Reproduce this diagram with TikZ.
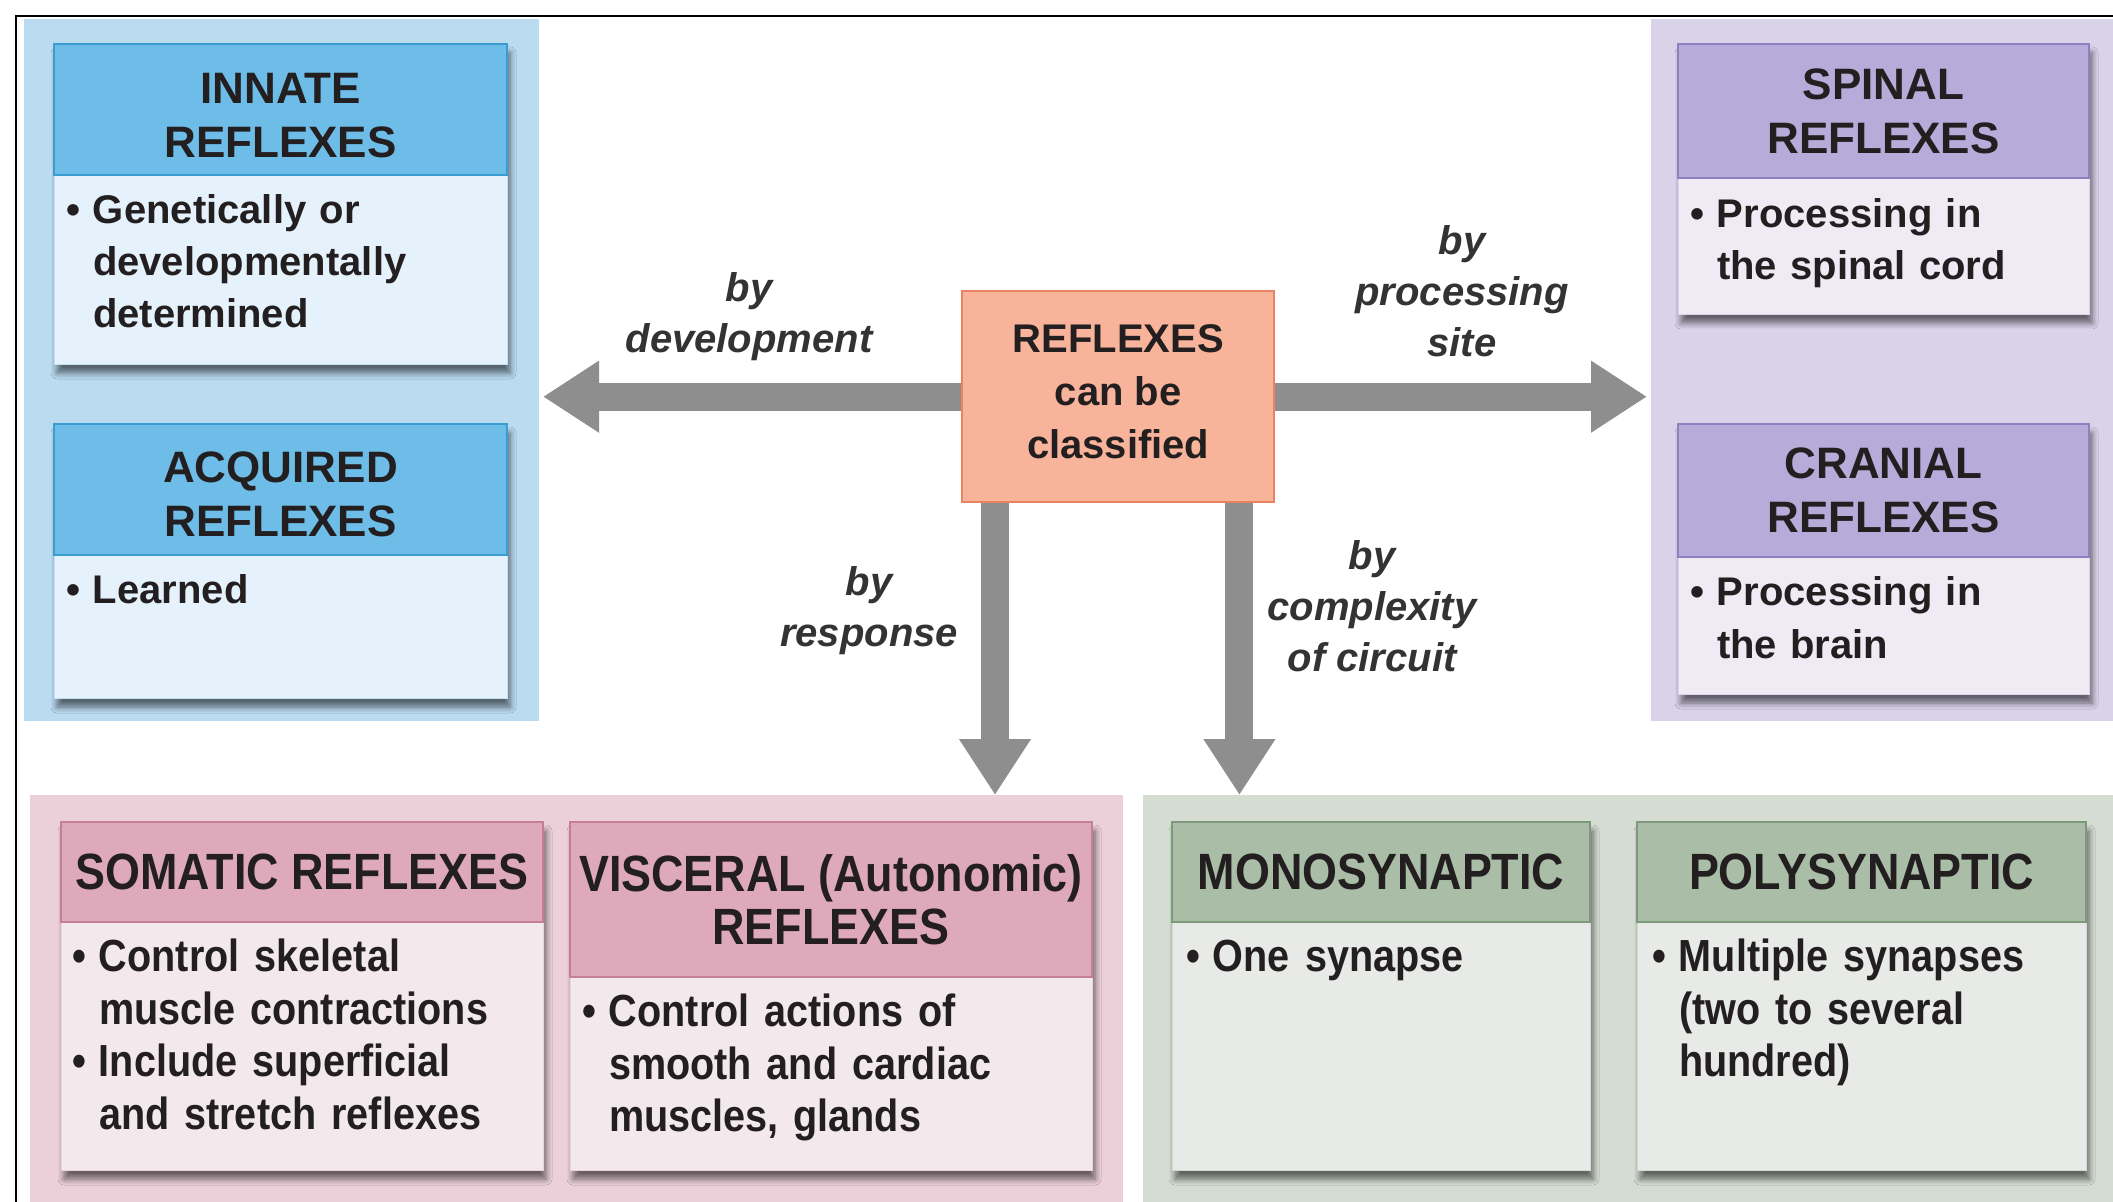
\documentclass[tikz,border=0pt]{standalone}
\usepackage{fontspec}
\setmainfont{Liberation Sans}
\newfontfamily\condf[FakeStretch=0.88]{Liberation Sans}
\usetikzlibrary{arrows.meta,shadows.blur}
\definecolor{txt}{HTML}{231F20}
\definecolor{lbltxt}{HTML}{333333}
\definecolor{lblue}{HTML}{BBDBF1}
\definecolor{hblue}{HTML}{6EBDE8}
\definecolor{bblue}{HTML}{3A9DD2}
\definecolor{fblue}{HTML}{E5F2FB}
\definecolor{lpur}{HTML}{D9D3E9}
\definecolor{hpur}{HTML}{B5ACDA}
\definecolor{bpur}{HTML}{8C80BF}
\definecolor{fpur}{HTML}{EFEAF4}
\definecolor{lpink}{HTML}{EBCFD9}
\definecolor{hpink}{HTML}{DEA9BB}
\definecolor{bpink}{HTML}{C47F97}
\definecolor{fpink}{HTML}{F3E9EC}
\definecolor{lgrn}{HTML}{D5DDD3}
\definecolor{hgrn}{HTML}{A9BDA7}
\definecolor{bgrn}{HTML}{7E987C}
\definecolor{fgrn}{HTML}{E8EAE7}
\definecolor{salmon}{HTML}{F8B39B}
\definecolor{salmonb}{HTML}{E8845F}
\definecolor{agray}{HTML}{8E8E8E}
\newlength\bulw
\setlength\bulw{13.5pt}
\newcommand\bitem[1]{\par\noindent\hangindent=\bulw\hangafter=1\makebox[\bulw][l]{\textbullet}#1\par}
\begin{document}
\begin{tikzpicture}[x=0.5pt,y=-0.5pt,
  panel/.style={rectangle, anchor=north west, inner sep=0pt, outer sep=0pt, draw=none},
  boxbase/.style={rectangle, anchor=north west, inner sep=0pt, outer sep=0pt, line width=0.4pt,
     blur shadow={shadow xshift=1.5pt, shadow yshift=-4.5pt, shadow opacity=55, shadow blur steps=6, shadow blur radius=3pt}},
  hdr/.style={rectangle, anchor=north west, inner sep=0pt, outer sep=0pt, line width=1pt, align=center, text=txt},
  hdrL/.style={hdr, font=\fontsize{22}{27}\selectfont\bfseries},
  hdrC/.style={hdr, font=\condf\fontsize{25.5}{26.3}\selectfont\bfseries},
  bodyL/.style={anchor=north west, inner sep=0pt, outer sep=0pt, text width=215pt, text=txt, font=\fontsize{20}{26}\selectfont\bfseries},
  bodyC/.style={anchor=north west, inner sep=0pt, outer sep=0pt, text width=240pt, text=txt, font=\condf\fontsize{22.5}{26.3}\selectfont\bfseries},
  lbl/.style={align=center, inner sep=0pt, text=lbltxt, font=\fontsize{20}{25.5}\selectfont\bfseries\itshape},
  bigarrow/.style={draw=agray, line width=14pt, -{Triangle[width=34pt,length=28pt]}}
]
\useasboundingbox (0,0) rectangle (2113,1202);
\fill[white] (0,0) rectangle (2113,1202);
\draw[line width=1pt] (16,1202) -- (16,16) -- (2113,16);

% panels
\node[panel, fill=lblue, minimum width=257.5pt, minimum height=351pt] (lp) at (24,19) {};
\node[panel, fill=lpur, minimum width=231pt, minimum height=351pt] (rp) at (1651,19) {};
\node[panel, fill=lpink, minimum width=546.5pt, minimum height=203.5pt] (bp) at (30,795) {};
\node[panel, fill=lgrn, minimum width=485pt, minimum height=203.5pt] (gp) at (1143,795) {};

% left boxes
\node[boxbase, fill=fblue, draw=fblue!80!bblue, minimum width=226.5pt, minimum height=160pt] (innate) at (54,44) {};
\node[hdrL, fill=hblue, draw=bblue, minimum width=226.5pt, minimum height=65.5pt] (innateh) at (54,44) {\rule{0pt}{21pt}INNATE\\REFLEXES};
\node[bodyL] (innatet) at (66,172) {\bitem{Genetically or\newline developmentally\newline determined}};

\node[boxbase, fill=fblue, draw=fblue!80!bblue, minimum width=226.5pt, minimum height=137pt] (acq) at (54,424) {};
\node[hdrL, fill=hblue, draw=bblue, minimum width=226.5pt, minimum height=65.5pt] (acqh) at (54,424) {\rule{0pt}{19.8pt}ACQUIRED\\REFLEXES};
\node[bodyL] (acqt) at (66,552) {\bitem{Learned}};

% right boxes
\node[boxbase, fill=fpur, draw=fpur!80!bpur, minimum width=205.5pt, minimum height=135pt] (spinal) at (1678,44) {};
\node[hdrL, fill=hpur, draw=bpur, minimum width=205.5pt, minimum height=67pt] (spinalh) at (1678,44) {SPINAL\\REFLEXES};
\node[bodyL] (spinalt) at (1690,176) {\bitem{Processing in\newline the spinal cord}};

\node[boxbase, fill=fpur, draw=fpur!80!bpur, minimum width=205.5pt, minimum height=135pt] (cranial) at (1678,424) {};
\node[hdrL, fill=hpur, draw=bpur, minimum width=205.5pt, minimum height=66.5pt] (cranialh) at (1678,424) {CRANIAL\\REFLEXES};
\node[bodyL] (cranialt) at (1690,554) {\bitem{Processing in\newline the brain}};

% bottom boxes
\node[boxbase, fill=fpink, draw=fpink!80!bpink, minimum width=241pt, minimum height=174pt] (som) at (61,822) {};
\node[hdrC, fill=hpink, draw=bpink, minimum width=241pt, minimum height=50pt] (somh) at (61,822) {SOMATIC REFLEXES};
\node[bodyC] (somt) at (72,919) {\bitem{Control skeletal\newline muscle contractions}\bitem{Include superficial\newline and stretch reflexes}};

\node[boxbase, fill=fpink, draw=fpink!80!bpink, minimum width=261pt, minimum height=174pt] (vis) at (570,822) {};
\node[hdrC, fill=hpink, draw=bpink, minimum width=261pt, minimum height=77.5pt] (vish) at (570,822) {VISCERAL (Autonomic)\\REFLEXES};
\node[bodyC] (vist) at (582,974) {\bitem{Control actions of\newline smooth and cardiac\newline muscles, glands}};

\node[boxbase, fill=fgrn, draw=fgrn!80!bgrn, minimum width=209pt, minimum height=174pt] (mono) at (1172,822) {};
\node[hdrC, fill=hgrn, draw=bgrn, minimum width=209pt, minimum height=50pt] (monoh) at (1172,822) {MONOSYNAPTIC};
\node[bodyC] (monot) at (1186,919) {\bitem{One synapse}};

\node[boxbase, fill=fgrn, draw=fgrn!80!bgrn, minimum width=224.5pt, minimum height=174pt] (poly) at (1637,822) {};
\node[hdrC, fill=hgrn, draw=bgrn, minimum width=224.5pt, minimum height=50pt] (polyh) at (1637,822) {POLYSYNAPTIC};
\node[bodyC] (polyt) at (1652,919) {\bitem{Multiple synapses\newline (two to several\newline hundred)}};

% center
\node[rectangle, anchor=north west, fill=salmon, draw=salmonb, line width=1.2pt, minimum width=156pt, minimum height=105.5pt, inner sep=0pt, align=center, text=txt, font=\fontsize{20}{26.5}\selectfont\bfseries] (ctr) at (961,290) {REFLEXES\\can be\\classified\rule[-5.4pt]{0pt}{5.4pt}};

% arrows
\draw[bigarrow, shorten >=2pt] (ctr.west) -- (lp.east |- ctr.west);
\draw[bigarrow, shorten >=2pt] (ctr.east) -- (rp.west |- ctr.east);
\draw[bigarrow] ([xshift=17pt]ctr.south west) -- ([xshift=17pt]ctr.south west |- bp.north);
\draw[bigarrow] ([xshift=-18pt]ctr.south east) -- ([xshift=-18pt]ctr.south east |- gp.north);

% labels
\node[lbl] (ldev) at (749,317) {by\\development};
\node[lbl] (lsite) at (1462,291) {by\\processing\\site};
\node[lbl] (lresp) at (869,611) {by\\response};
\node[lbl] (lcomp) at (1372,606) {by\\complexity\\of circuit};
\end{tikzpicture}
\end{document}
